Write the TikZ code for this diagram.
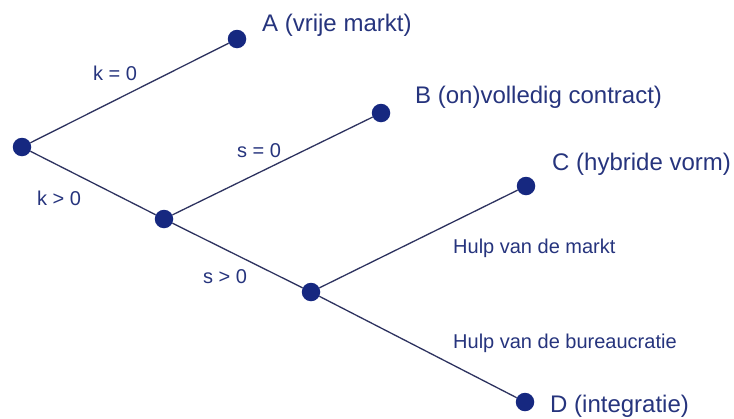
\documentclass[tikz,border=0pt]{standalone}
\usepackage{fontspec}
\setmainfont{Liberation Sans}
\usetikzlibrary{positioning}
\definecolor{dotblue}{RGB}{22,40,128}
\definecolor{linenavy}{RGB}{45,50,95}
\definecolor{textblue}{RGB}{38,52,125}
\tikzset{
  choice/.style={circle,fill=dotblue,minimum size=18.5pt,inner sep=0pt},
  branch/.style={draw=linenavy,line width=1.3pt},
  outcome/.style={anchor=base west,inner sep=0pt,text=textblue,font=\fontsize{24}{28}\selectfont},
  cond/.style={anchor=base west,inner sep=0pt,text=textblue,font=\fontsize{20}{24}\selectfont}
}

\begin{document}
\begin{tikzpicture}[x=1pt,y=-1pt]
  \useasboundingbox (0,0) rectangle (734,418);
  % decision points
  \node[choice] (root) at (22,147) {};
  \node[choice] (kpos) at (164,219) {};
  \node[choice] (spos) at (311,292) {};
  % end points
  \node[choice] (endA) at (237,39) {};
  \node[choice] (endB) at (381,113) {};
  \node[choice] (endC) at (526,186) {};
  \node[choice] (endD) at (525,402) {};
  \draw[branch] (root)--(endA); \draw[branch] (root)--(kpos);
  \draw[branch] (kpos)--(endB); \draw[branch] (kpos)--(spos);
  \draw[branch] (spos)--(endC); \draw[branch] (spos)--(endD);
  % outcomes
  \node[outcome] (labA) at (262,31) {A (vrije markt)};
  \node[outcome] (labB) at (415,103) {B (on)volledig contract)};
  \node[outcome] (labC) at (552,170) {C (hybride vorm)};
  \node[outcome] (labD) at (550,412) {D (integratie)};
  % conditions
  \node[cond] (kzero) at (93,80) {k = 0};
  \node[cond] (kmore) at (37,205) {k > 0};
  \node[cond] (szero) at (237,157) {s = 0};
  \node[cond] (smore) at (203,283) {s > 0};
  \node[cond] (hmarkt) at (453,253) {Hulp van de markt};
  \node[cond] (hbureau) at (453,348) {Hulp van de bureaucratie};
\end{tikzpicture}
\end{document}
